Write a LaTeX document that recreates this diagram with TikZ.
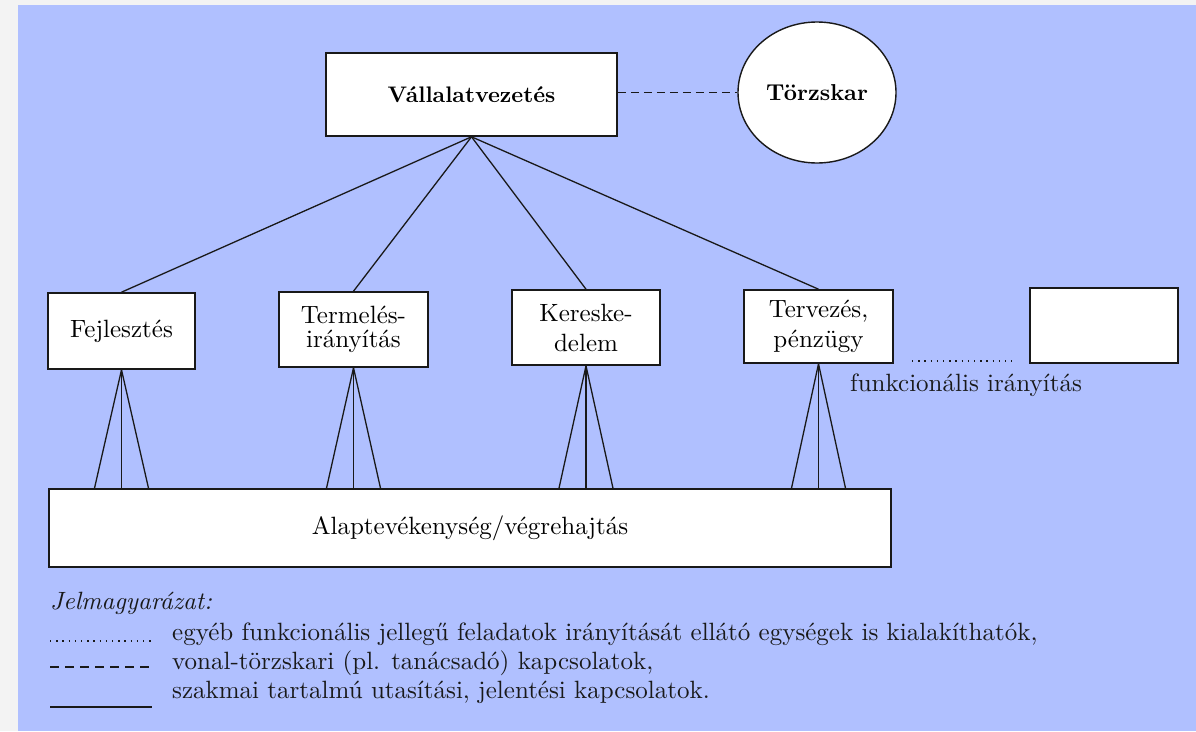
\documentclass[tikz,border=0pt]{standalone}
\usepackage{fontspec}
\setmainfont{lmroman10-regular.otf}[
  BoldFont=lmroman10-bold.otf,
  ItalicFont=lmroman10-italic.otf,
  BoldItalicFont=lmroman10-bolditalic.otf]
\usetikzlibrary{shapes.geometric,calc}
\definecolor{paper}{RGB}{176,192,255}
\definecolor{rim}{RGB}{243,243,243}
\definecolor{ink}{RGB}{25,25,25}
\begin{document}
\begin{tikzpicture}[x=1pt,y=-1pt,
  box/.style={draw=ink, line width=1.6pt, fill=white, inner sep=0pt,
    align=center, font=\fontsize{25}{26}\selectfont},
  link/.style={draw=ink, line width=1.3pt},
  staffline/.style={draw=ink, line width=1.3pt, dash pattern=on 8pt off 5pt},
  dotline/.style={draw=ink, line width=1.4pt, dash pattern=on 1.4pt off 4.8pt},
  txt/.style={inner sep=0pt, font=\fontsize{25}{26}\selectfont, text=ink}]
% page: light rim with the blue sheet
\fill[rim] (0,0) rectangle (1196,731);
\fill[paper] (18,5) rectangle (1196,731);
\useasboundingbox (0,0) rectangle (1196,731);

% management and staff
\node[box, minimum width=291pt, minimum height=83pt,
  font=\bfseries\fontsize{22.5}{24}\selectfont] (vv) at (471.5,94.5) {Vállalatvezetés};
\node[ellipse, draw=ink, line width=1.4pt, fill=white, inner sep=0pt,
  minimum width=158pt, minimum height=141pt,
  font=\bfseries\fontsize{23}{24}\selectfont] (tk) at (817,92.5) {Törzskar};
\draw[staffline] (vv.east |- tk.west) -- (tk.west);

% functional units
\node[box, minimum width=147pt, minimum height=76pt] (fej) at (121.5,331) {Fejlesztés};
\node[box, minimum width=149pt, minimum height=75pt,
  font=\fontsize{25}{24}\selectfont] (ter) at (353.5,329.5) {Termelés-\\irányítás};
\node[box, minimum width=148pt, minimum height=75pt,
  font=\fontsize{25}{30}\selectfont] (ker) at (586,327.5) {Kereske-\\delem};
\node[box, minimum width=149pt, minimum height=73pt,
  font=\fontsize{25}{30}\selectfont] (tp) at (818.5,326.5) {Tervezés,\\pénzügy};
\node[box, minimum width=148pt, minimum height=75pt] (extra) at (1104,325.5) {};

% operating level
\node[box, minimum width=842pt, minimum height=78pt] (base) at (470,528) {Alaptevékenység/végrehajtás};

% line links from management
\foreach \u in {fej,ter,ker,tp}
  \draw[link] (vv.south) -- (\u.north);

% tripods down to the operating level
\foreach \u in {fej,ter,ker,tp}{
  \draw[link] (\u.south) -- ($(\u.south |- base.north)+(-27,0)$);
  \draw[link] (\u.south) -- (\u.south |- base.north);
  \draw[link] (\u.south) -- ($(\u.south |- base.north)+(27,0)$);
}

% further functional units
\coordinate (fa) at (912,361);
\coordinate (fb) at (1012,361);
\draw[dotline] (fa) -- (fb);
\node[txt] (fi) at (966,385) {funkcionális irányítás};

% legend
\node[txt, anchor=base west, font=\itshape\fontsize{25}{26}\selectfont] (jm) at (50,609) {Jelmagyarázat:};
\coordinate (la1) at (50,641);  \coordinate (lb1) at (152,641);
\coordinate (la2) at (50,667);  \coordinate (lb2) at (152,667);
\coordinate (la3) at (50,707);  \coordinate (lb3) at (152,707);
\draw[dotline] (la1) -- (lb1);
\draw[link, dash pattern=on 9pt off 6pt] (la2) -- (lb2);
\draw[link] (la3) -- (lb3);
\node[txt, anchor=base west] (t1) at (172,640) {egyéb funkcionális jellegű feladatok irányítását ellátó egységek is kialakíthatók,};
\node[txt, anchor=base west] (t2) at (172,669) {vonal-törzskari (pl. tanácsadó) kapcsolatok,};
\node[txt, anchor=base west] (t3) at (172,698) {szakmai tartalmú utasítási, jelentési kapcsolatok.};
\end{tikzpicture}
\end{document}
